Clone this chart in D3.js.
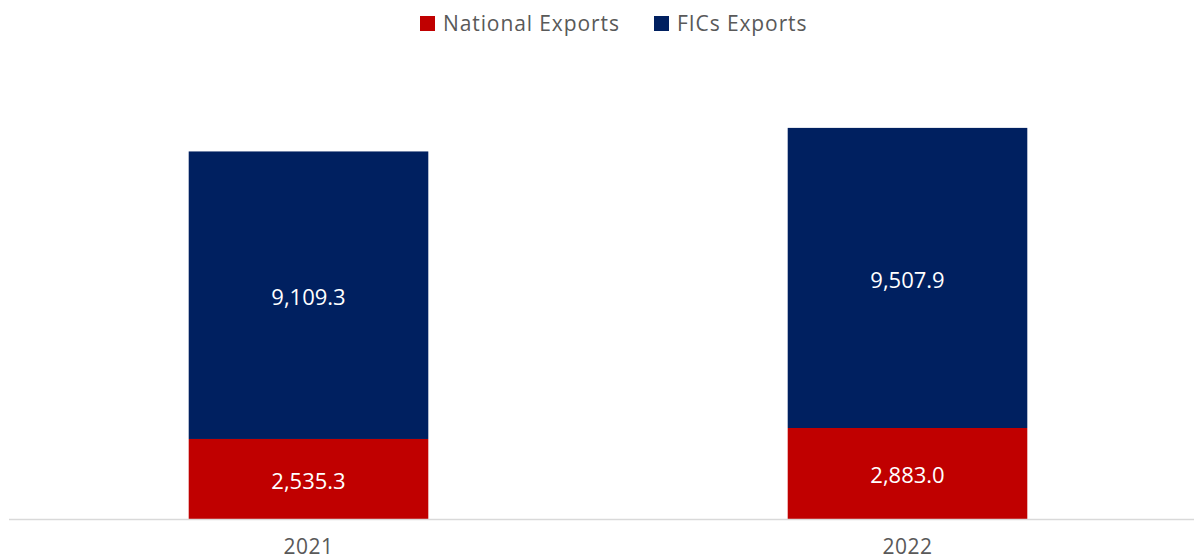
<!DOCTYPE html>
<html>
<head>
<meta charset="utf-8">
<script src="https://cdn.jsdelivr.net/npm/d3@7"></script>
<style>
  body { margin: 0; background: #fff; }
  text { font-family: 'Open Sans', sans-serif; }
</style>
</head>
<body>
<div id="vis"></div>
<script>
// data
var years = ['2021', '2022'];
var nationalExports = [2535.3, 2883.0];
var ficsExports = [9109.3, 9507.9];
var seriesNames = ['National Exports', 'FICs Exports'];

//layout
var width = 1194, height = 559;
var base = 519;
var colors = { national: '#C00000', fics: '#002060', text: '#595959', axis: '#d9d9d9' };

var svg = d3.select('#vis').append('svg')
    .attr('width', width)
    .attr('height', height);

var x = d3.scaleBand().domain(years).range([9, 1207]).paddingInner(0.6).paddingOuter(0.3);
var y = d3.scaleLinear().domain([0, 14000]).range([base, base - 441.9]);

var rows = years.map(function (yr, i) {
    return { year: yr, national: nationalExports[i], fics: ficsExports[i] };
});
var stacked = d3.stack().keys(['national', 'fics'])(rows);

//bars
var layer = svg.selectAll('.layer')
    .data(stacked)
    .enter()
    .append('g')
    .attr('fill', function (d) { return colors[d.key]; });

layer.selectAll('rect')
    .data(function (d) { return d; })
    .enter()
    .append('rect')
    .attr('x', function (d) { return x(d.data.year); })
    .attr('width', x.bandwidth())
    .attr('y', function (d) { return y(d[1]); })
    .attr('height', function (d) { return y(d[0]) - y(d[1]); });

//value labels
var fmt = d3.format(',.1f');
layer.selectAll('text')
    .data(function (d) { return d; })
    .enter()
    .append('text')
    .attr('x', function (d) { return x(d.data.year) + x.bandwidth() / 2; })
    .attr('y', function (d) { return (y(d[0]) + y(d[1])) / 2 + 2; })
    .attr('dy', '0.36em')
    .attr('text-anchor', 'middle')
    .attr('fill', '#fff')
    .style('font-size', '22px')
    .text(function (d) { return fmt(d[1] - d[0]); });

//baseline
svg.append('line')
    .attr('x1', 9)
    .attr('x2', width)
    .attr('y1', base + 0.5)
    .attr('y2', base + 0.5)
    .attr('stroke', colors.axis)
    .attr('stroke-width', 1.5);

//x axis labels
var xAxis = d3.axisBottom(x).tickSize(0).tickPadding(20);
var ax = svg.append('g')
    .attr('transform', 'translate(0,' + base + ')')
    .call(xAxis);
ax.select('.domain').remove();
ax.selectAll('text')
    .attr('fill', colors.text)
    .style('font-size', '21px')
    .style('letter-spacing', '0.5px')
    .style('font-family', "'Open Sans', sans-serif");

//legend
var legend = [
    { name: seriesNames[0], color: colors.national, x: 420 },
    { name: seriesNames[1], color: colors.fics, x: 654 }
];
var lg = svg.selectAll('.legend')
    .data(legend)
    .enter()
    .append('g')
    .attr('transform', function (d) { return 'translate(' + d.x + ',16)'; });
lg.append('rect')
    .attr('width', 15)
    .attr('height', 15)
    .attr('fill', function (d) { return d.color; });
lg.append('text')
    .attr('x', 23)
    .attr('y', 7.5)
    .attr('dy', '0.36em')
    .attr('fill', colors.text)
    .style('font-size', '21px')
    .style('letter-spacing', '0.9px')
    .text(function (d) { return d.name; });
</script>
</body>
</html>
